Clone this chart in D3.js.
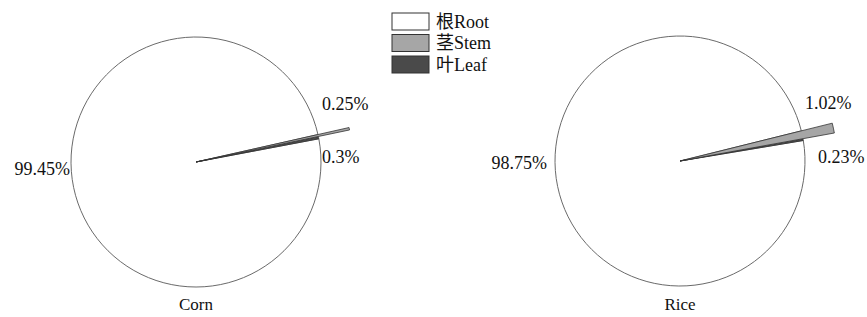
<!DOCTYPE html>
<html><head><meta charset="utf-8">
<script src="https://cdn.jsdelivr.net/npm/d3@7/dist/d3.min.js"></script>
<style>body{margin:0;background:#fff}svg{display:block}</style>
</head><body>
<svg id="c" width="867" height="317"></svg>
<script>
// ---- data ----
const crops = ["Corn", "Rice"];
const parts = ["根Root", "茎Stem", "叶Leaf"];
const cornValues = [99.45, 0.25, 0.3];   // root, stem, leaf (%)
const riceValues = [98.75, 1.02, 0.23];
const cornLabels = ["99.45%", "0.25%", "0.3%"];
const riceLabels = ["98.75%", "1.02%", "0.23%"];

// ---- layout / style ----
const svg = d3.select("#c");
const serif = "'Liberation Serif','Times New Roman','Noto Sans CJK SC',serif";
const fills = ["#ffffff", "#a6a6a6", "#4a4a4a"];
const R = 125;
const charts = [
  {name: crops[0], values: cornValues, labels: cornLabels, cx: 196, cy: 162,
   lab: [[70, 175, "end"], [322, 110, "start"], [322, 163, "start"]]},
  {name: crops[1], values: riceValues, labels: riceLabels, cx: 680, cy: 161,
   lab: [[547, 169, "end"], [805, 109, "start"], [818, 163, "start"]]}
];
const dirDeg = 78.3; // direction (d3 angle) of the small slices' centre

charts.forEach(ch => {
  // order clockwise: stem, leaf, root
  const ordered = [ch.values[1], ch.values[2], ch.values[0]];
  const idx = [1, 2, 0];
  const total = d3.sum(ordered);
  const smallSpan = (ordered[0] + ordered[1]) / total * 2 * Math.PI;
  const s = dirDeg * Math.PI / 180 - smallSpan / 2;
  const pie = d3.pie().sort(null).value(d => d).startAngle(s).endAngle(s + 2 * Math.PI);
  const arcs = pie(ordered).map((a, i) => ({...a, k: idx[i]}));
  const g = svg.append("g").attr("transform", `translate(${ch.cx},${ch.cy})`);
  const outer = k => k === 1 ? R * 1.255 : R;
  const drawOrder = [0, 2, 1];
  drawOrder.forEach(k => {
    const a = arcs.find(d => d.k === k);
    g.append("path")
      .attr("d", d3.arc().innerRadius(0).outerRadius(outer(k))(a))
      .attr("fill", fills[k])
      .attr("stroke", k === 0 ? "#6a6a6a" : "#333")
      .attr("stroke-width", k === 0 ? 1 : 0.8)
      .attr("stroke-linejoin", "round");
  });
  ch.labels.forEach((t, k) => {
    svg.append("text")
      .attr("x", ch.lab[k][0]).attr("y", ch.lab[k][1])
      .attr("text-anchor", ch.lab[k][2])
      .attr("font-family", serif).attr("font-size", 18)
      .attr("fill", "#111").text(t);
  });
  svg.append("text")
    .attr("x", ch.cx).attr("y", 310)
    .attr("text-anchor", "middle")
    .attr("font-family", serif).attr("font-size", 17)
    .attr("fill", "#111").text(ch.name);
});

// ---- legend ----
const lg = svg.append("g").attr("transform", "translate(392,13)");
parts.forEach((p, i) => {
  const y = i * 21.5;
  lg.append("rect").attr("x", 0).attr("y", y).attr("width", 37).attr("height", 17)
    .attr("fill", fills[i]).attr("stroke", "#333").attr("stroke-width", 1);
  lg.append("text").attr("x", 44).attr("y", y + 14.5)
    .attr("font-family", serif).attr("font-size", 18).attr("fill", "#111").text(p);
});
</script>
</body></html>
